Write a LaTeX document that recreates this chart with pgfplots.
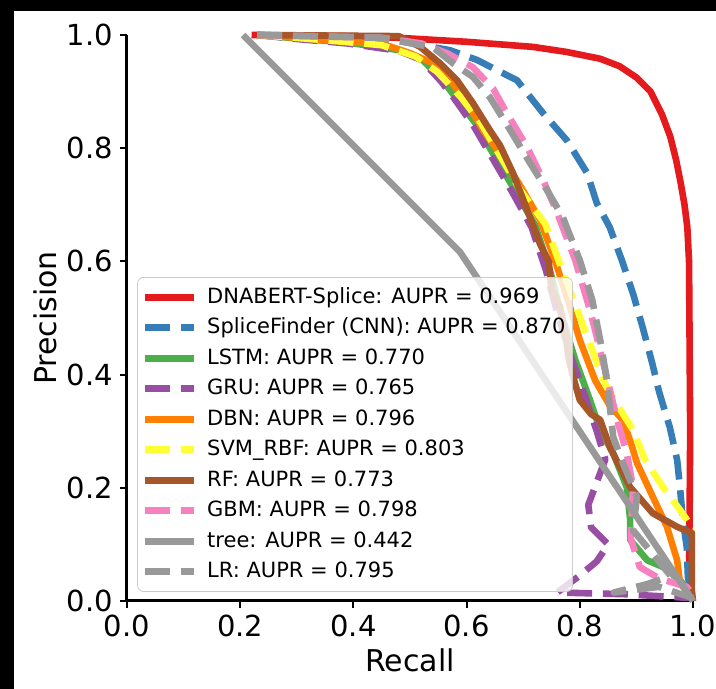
\documentclass[border=0pt]{standalone}
\usepackage{pgfplots}
\pgfplotsset{compat=1.18}
\usepackage{fontspec}
\setmainfont{DejaVu Sans}
\definecolor{cred}{HTML}{E41A1C}
\definecolor{cblue}{HTML}{377EB8}
\definecolor{cgreen}{HTML}{4DAF4A}
\definecolor{cpurple}{HTML}{984EA3}
\definecolor{corange}{HTML}{FF7F00}
\definecolor{cyellow}{HTML}{FFFF33}
\definecolor{cbrown}{HTML}{A65628}
\definecolor{cpink}{HTML}{F781BF}
\definecolor{cgray}{HTML}{999999}
\begin{document}
\begin{tikzpicture}
\useasboundingbox (-63.5pt,-44pt) rectangle (294.5pt,300.5pt);
\clip (-63.5pt,-44pt) rectangle (294.5pt,300.5pt);
\fill[black] (-63.5pt,-44pt) rectangle (294.5pt,300.5pt);
\fill[white] (-56.5pt,-44pt) rectangle (294.5pt,295pt);
\begin{axis}[
  at={(0,0)}, anchor=south west,
  scale only axis, width=283pt, height=283pt,
  xmin=0, xmax=1, ymin=0, ymax=1,
  clip=false,
  axis x line*=bottom, axis y line*=left,
  axis line style={-, line width=1.5pt, black},
  xtick={0,0.2,0.4,0.6,0.8,1.0},
  ytick={0,0.2,0.4,0.6,0.8,1.0},
  tick align=outside, major tick length=3.5pt,
  tick style={black, line width=1pt},
  /pgf/number format/assume math mode=true,
  xticklabel style={/pgf/number format/.cd, fixed, fixed zerofill, precision=1},
  yticklabel style={/pgf/number format/.cd, fixed, fixed zerofill, precision=1},
  ticklabel style={font=\fontsize{14.5}{17}\selectfont},
  xlabel={Recall}, ylabel={Precision},
  every axis x label/.style={at={(axis description cs:0.5,-0.104)}, anchor=center, font=\fontsize{15}{18}\selectfont},
  every axis y label/.style={at={(axis description cs:-0.145,0.5)}, anchor=center, rotate=90, font=\fontsize{15}{18}\selectfont},
  line join=round,
  legend style={at={(0.018,0.016)}, anchor=south west, draw=black!20, rounded corners=3pt,
    fill=white, fill opacity=0.8, draw opacity=1, text opacity=1,
    font=\fontsize{10.5}{12}\selectfont, inner xsep=2pt, inner ysep=3.5pt, row sep=2.45pt,
    nodes={inner sep=1.5pt, text height=7.8pt, text depth=2pt},
    /tikz/every odd column/.append style={column sep=3.5pt}},
  legend cell align=left,
  legend image code/.code={\draw[#1] (0pt,0pt) -- (24.5pt,0pt);},
  solidl/.style={line width=3.3pt},
  dashl/.style={line width=3.3pt, dash pattern=on 12.5pt off 5.4pt},
]
% DNABERT-Splice
\addplot[cred, solidl] coordinates {
(0.22,1.0) (0.40,0.998) (0.48,0.995) (0.60,0.988) (0.717,0.979) (0.777,0.970)
(0.836,0.958) (0.87,0.945) (0.90,0.925) (0.925,0.90) (0.945,0.86) (0.96,0.82)
(0.97,0.78) (0.978,0.74) (0.985,0.70) (0.990,0.66) (0.993,0.60) (0.994,0.45)
(0.995,0.30) (0.994,0.15) (0.993,0.08) (0.995,0.04) (1.0,0.0)};
\addlegendentry{DNABERT-Splice: AUPR = 0.969}
% SpliceFinder
\addplot[cblue, dashl] coordinates {
(0.23,1.0) (0.45,0.995) (0.571,0.973) (0.618,0.956) (0.689,0.920) (0.735,0.862)
(0.777,0.814) (0.813,0.756) (0.830,0.703) (0.853,0.66) (0.875,0.60) (0.895,0.54)
(0.912,0.48) (0.928,0.42) (0.94,0.37) (0.952,0.33) (0.959,0.307) (0.972,0.249)
(0.977,0.201) (0.982,0.143) (0.989,0.095) (0.991,0.042) (1.0,0.0)};
\addlegendentry{SpliceFinder (CNN): AUPR = 0.870}
% LSTM
\addplot[cgreen, solidl] coordinates {
(0.23,1.0) (0.30,0.994) (0.394,0.986) (0.482,0.973) (0.52,0.958) (0.558,0.92)
(0.58,0.89) (0.615,0.845) (0.65,0.785) (0.685,0.726) (0.721,0.664) (0.747,0.585)
(0.765,0.514) (0.792,0.426) (0.818,0.355) (0.836,0.302) (0.853,0.272) (0.859,0.261)
(0.883,0.201) (0.889,0.143) (0.889,0.108) (0.919,0.072) (0.947,0.06) (0.977,0.037)
(0.99,0.02) (1.0,0.01)};
\addlegendentry{LSTM: AUPR = 0.770}
% GRU
\addplot[cpurple, dashl] coordinates {
(0.23,1.0) (0.30,0.993) (0.39,0.985) (0.48,0.972) (0.52,0.956) (0.555,0.918)
(0.578,0.888) (0.612,0.84) (0.647,0.78) (0.682,0.72) (0.715,0.66) (0.74,0.585)
(0.76,0.51) (0.785,0.43) (0.81,0.36) (0.83,0.30) (0.845,0.25) (0.83,0.21)
(0.815,0.17) (0.82,0.13) (0.85,0.10) (0.83,0.07) (0.80,0.045) (0.76,0.015)
(0.88,0.012) (1.0,0.005)};
\addlegendentry{GRU: AUPR = 0.765}
% DBN
\addplot[corange, solidl] coordinates {
(0.23,1.0) (0.30,0.995) (0.36,0.990) (0.452,0.984) (0.50,0.968) (0.541,0.95)
(0.571,0.92) (0.601,0.88) (0.629,0.832) (0.659,0.79) (0.694,0.735) (0.73,0.673)
(0.756,0.602) (0.779,0.532) (0.80,0.461) (0.827,0.39) (0.853,0.345) (0.876,0.32)
(0.89,0.28) (0.901,0.244) (0.929,0.184) (0.954,0.131) (0.972,0.072) (0.977,0.032)
(0.99,0.015) (1.0,0.005)};
\addlegendentry{DBN: AUPR = 0.796}
% SVM_RBF
\addplot[cyellow, dashl] coordinates {
(0.23,1.0) (0.30,0.995) (0.36,0.990) (0.45,0.982) (0.51,0.962) (0.548,0.935)
(0.59,0.89) (0.625,0.845) (0.66,0.785) (0.695,0.726) (0.739,0.666) (0.765,0.595)
(0.792,0.524) (0.818,0.454) (0.845,0.383) (0.871,0.339) (0.894,0.302) (0.915,0.25)
(0.947,0.201) (0.977,0.161) (0.995,0.135) (0.998,0.12)};
\addlegendentry{SVM\_RBF: AUPR = 0.803}
% RF
\addplot[cbrown, solidl] coordinates {
(0.23,1.0) (0.48,0.998) (0.518,0.979) (0.553,0.95) (0.583,0.92) (0.611,0.88)
(0.641,0.832) (0.659,0.805) (0.682,0.756) (0.712,0.678) (0.73,0.63) (0.745,0.60)
(0.75,0.55) (0.765,0.52) (0.775,0.47) (0.78,0.43) (0.79,0.39) (0.80,0.355)
(0.82,0.33) (0.836,0.32) (0.853,0.272) (0.889,0.201) (0.929,0.155) (0.972,0.131)
(0.998,0.12) (0.998,0.0)};
\addlegendentry{RF: AUPR = 0.773}
% GBM
\addplot[cpink, dashl] coordinates {
(0.23,1.0) (0.45,0.995) (0.52,0.985) (0.565,0.968) (0.611,0.943) (0.647,0.905)
(0.671,0.862) (0.707,0.802) (0.735,0.744) (0.760,0.686) (0.792,0.602) (0.818,0.514)
(0.836,0.443) (0.853,0.373) (0.866,0.32) (0.883,0.261) (0.894,0.201) (0.89,0.11)
(0.906,0.06) (0.94,0.04) (0.989,0.025) (1.0,0.01)};
\addlegendentry{GBM: AUPR = 0.798}
% tree
\addplot[cgray, solidl] coordinates {(0.205,1.0) (0.588,0.617) (1.0,0.0)};
\addlegendentry{tree: AUPR = 0.442}
% LR
\addplot[cgray, dashl] coordinates {
(0.23,1.0) (0.45,0.995) (0.541,0.978) (0.576,0.95) (0.611,0.926) (0.641,0.89)
(0.677,0.832) (0.712,0.774) (0.742,0.726) (0.770,0.678) (0.80,0.602) (0.822,0.532)
(0.836,0.461) (0.848,0.39) (0.859,0.29) (0.876,0.244) (0.901,0.184) (0.894,0.125)
(0.919,0.095) (0.942,0.067) (0.96,0.045) (0.92,0.03) (0.86,0.015) (0.94,0.025)
(1.0,0.005)};
\addlegendentry{LR: AUPR = 0.795}
\end{axis}
\end{tikzpicture}
\end{document}
